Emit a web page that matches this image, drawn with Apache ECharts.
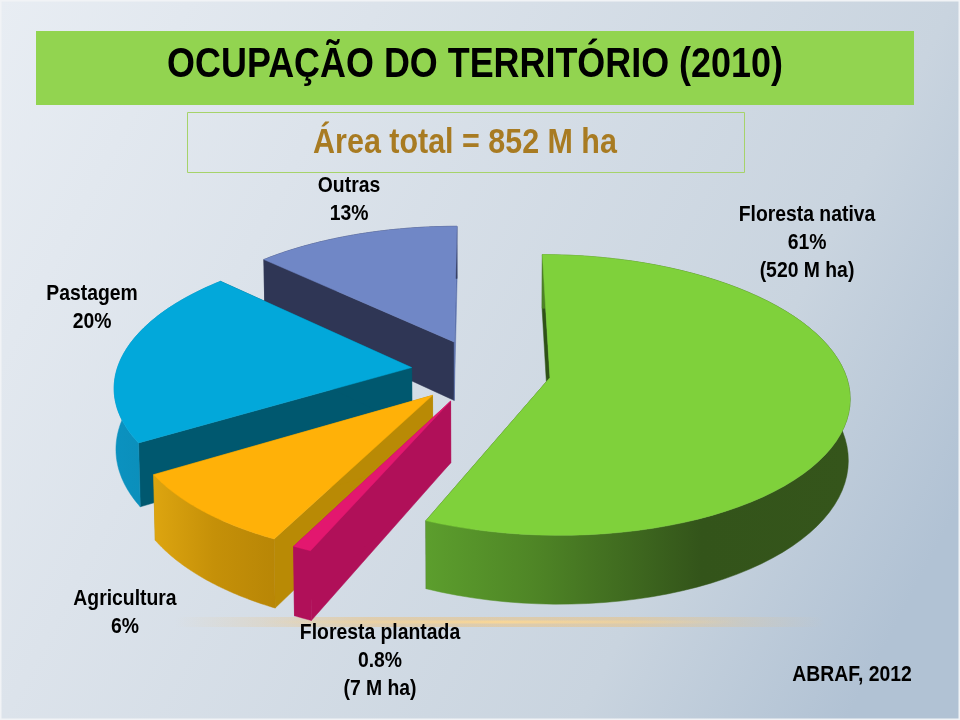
<!DOCTYPE html>
<html>
<head>
<meta charset="utf-8">
<style>html,body{margin:0;padding:0;background:#fff}#c{width:960px;height:720px}</style>
<script src="https://cdn.jsdelivr.net/npm/echarts@6/dist/echarts.min.js"></script>
</head>
<body>
<div id="c"></div>
<script>
// Clockwise from the top of the pie.
const categories = ['Floresta nativa', 'Floresta plantada', 'Agricultura', 'Pastagem', 'Outras'];
// Percentages printed on the labels.
const labelPercent = ['61%', '0.8%', '6%', '20%', '13%'];
const labelArea = ['(520 M ha)', '(7 M ha)', '', '', ''];
// Shares as actually drawn in the picture (measured from the slice angles).
const drawnShare = [56.5, 0.9, 8.9, 20.8, 12.9];
const drawOrder = [4, 3, 0, 2, 1];

const topColor = ['#7fd13b', '#e3176f', '#ffb108', '#02a8da', '#7087c6'];
const edgeColor = ['#2f5216', '#b01059', '#b98a05', '#00586f', '#2f3655'];
const endEdgeColor = ['#2f5216', '#b01059', '#b98a05', '#00586f', '#5d72ad'];
const rimStops = [
  [[0, '#5c9e2d'], [0.25, '#4f8626'], [0.65, '#33541a'], [1, '#35551b']],
  [[0, '#b01059'], [1, '#b01059']],
  [[0, '#dda510'], [0.5, '#c59008'], [1, '#b88606']],
  [[0, '#0b92c0'], [1, '#0a86ad']],
  [[0, '#2f3655'], [1, '#2f3655']]
];

const P = {cx: 481, cy: 371, R: 295, k: 0.463, persp: 0.125, explode: 70, depth: 60, shrink: 0.995};

function project(u, v) {
  const s = 1 / (1 - P.persp * v / 300);
  return [P.cx + u * s, P.cy + P.k * v * s, s];
}
function lower(p) {
  return [P.cx + (p[0] - P.cx) * P.shrink, p[1] + P.depth * p[2]];
}
const total = drawnShare.reduce((a, b) => a + b, 0);
const startShare = drawnShare.map((_, i) => drawnShare.slice(0, i).reduce((a, b) => a + b, 0));

function renderSlice(params, api) {
  const share = api.value(0), idx = api.value(1);
  const a0 = startShare[idx] / total * 2 * Math.PI;
  const a1 = a0 + share / total * 2 * Math.PI;
  const mid = (a0 + a1) / 2;
  const ou = Math.sin(mid) * P.explode, ov = -Math.cos(mid) * P.explode;
  const apex = project(ou, ov);
  const rim = [];
  const n = 72;
  for (let i = 0; i <= n; i++) {
    const a = a0 + (a1 - a0) * i / n;
    rim.push(project(ou + Math.sin(a) * P.R, ov - Math.cos(a) * P.R));
  }
  const rimLow = rim.map(lower), apexLow = lower(apex);
  const xy = p => [p[0], p[1]];
  const poly = (pts, fill) => ({type: 'polygon', shape: {points: pts.map(xy)}, style: {fill: fill, stroke: fill, lineWidth: 0.5}});
  const rimGrad = new echarts.graphic.LinearGradient(0, 0, 1, 0, rimStops[idx].map(s => ({offset: s[0], color: s[1]})));
  return {
    type: 'group',
    children: [
      poly([apex, rim[0], rimLow[0], apexLow], edgeColor[idx]),
      poly([apex, rim[n], rimLow[n], apexLow], endEdgeColor[idx]),
      poly(rim.concat(rimLow.slice().reverse()), rimGrad),
      poly([apex].concat(rim), topColor[idx])
    ]
  };
}

function lab(text, x, y, size, sx, fill) {
  return {type: 'text', x: x, y: y, scaleX: sx, z: 50,
    style: {text: text, font: 'bold ' + size + 'px "Liberation Sans", Arial, sans-serif', fill: fill || '#000',
      textAlign: 'center', textVerticalAlign: 'middle', lineHeight: 28}};
}
const labelText = i => [categories[i], labelPercent[i], labelArea[i]].filter(Boolean).join('\n');

const chart = echarts.init(document.getElementById('c'), null, {renderer: 'canvas'});
chart.setOption({
  animation: false,
  graphic: {elements: [
    {type: 'rect', z: -10, shape: {x: 0, y: 0, width: 960, height: 720},
      style: {fill: new echarts.graphic.LinearGradient(0, 0, 960, 504, [
        {offset: 0, color: '#e8edf3'}, {offset: 0.31, color: '#dce3eb'}, {offset: 0.78, color: '#c9d4df'}, {offset: 1, color: '#b1c2d4'}], true),
        stroke: '#f1f3f6', lineWidth: 3}},
    {type: 'rect', z: -9, shape: {x: 36, y: 31, width: 878, height: 74}, style: {fill: '#92d450'}},
    {type: 'rect', z: -9, shape: {x: 187.5, y: 112.5, width: 557, height: 60}, style: {fill: 'transparent', stroke: '#a6d36a', lineWidth: 1}},
    {type: 'rect', z: -9, shape: {x: 175, y: 617, width: 650, height: 10},
      style: {fill: new echarts.graphic.LinearGradient(0, 0, 1, 0, [
        {offset: 0, color: 'rgba(240,190,110,0)'}, {offset: 0.3, color: 'rgba(240,190,110,0.45)'},
        {offset: 0.7, color: 'rgba(240,190,110,0.45)'}, {offset: 1, color: 'rgba(240,190,110,0)'}])}},
    {type: 'rect', z: -9, shape: {x: 260, y: 620.5, width: 480, height: 3},
      style: {fill: new echarts.graphic.LinearGradient(0, 0, 1, 0, [
        {offset: 0, color: 'rgba(250,215,150,0)'}, {offset: 0.5, color: 'rgba(250,215,150,0.9)'}, {offset: 1, color: 'rgba(250,215,150,0)'}])}},
    lab('OCUPAÇÃO DO TERRITÓRIO (2010)', 475, 65, 43, 0.835),
    lab('Área total = 852 M ha', 465, 143, 35, 0.87, '#a87b22'),
    lab(labelText(4), 349, 200, 22, 0.88),
    lab(labelText(0), 807, 243, 22, 0.88),
    lab(labelText(3), 92, 308, 22, 0.88),
    lab(labelText(2), 125, 613, 22, 0.88),
    lab(labelText(1), 380, 661, 22, 0.88),
    lab('ABRAF, 2012', 852, 675, 22, 0.88)
  ]},
  series: [{
    type: 'custom',
    coordinateSystem: 'none',
    renderItem: renderSlice,
    data: drawOrder.map(i => ({name: categories[i], value: [drawnShare[i], i]}))
  }]
});
</script>
</body>
</html>
